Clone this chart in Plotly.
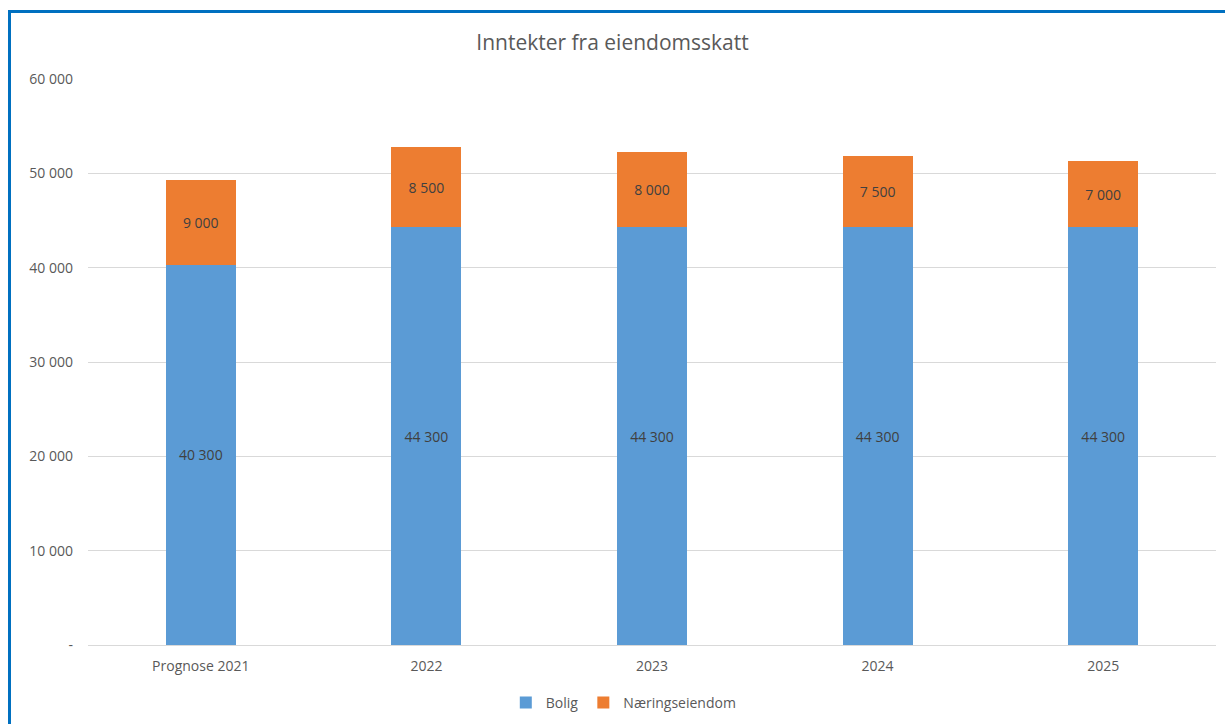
import plotly.graph_objects as go

categories = ["Prognose 2021", "2022", "2023", "2024", "2025"]
bolig = [40300, 44300, 44300, 44300, 44300]
naering = [9000, 8500, 8000, 7500, 7000]
ytick_vals = [0, 10000, 20000, 30000, 40000, 50000, 60000]
ytick_text = ["-", "10 000", "20 000", "30 000", "40 000", "50 000", "60 000"]

def fmt(v):
    return f"{v:,}".replace(",", " ")

FONT = "Open Sans"
GREY = "#595959"
PB = 645  # plot bottom pixel
PH = PB - 79

fig = go.Figure()
fig.add_trace(go.Bar(
    x=categories, y=bolig, name="Bolig",
    marker=dict(color="#5B9BD5", line=dict(width=0)),
    text=[fmt(v) for v in bolig], textposition="inside", insidetextanchor="middle",
    textfont=dict(color="#404040", size=14, family=FONT),
))
fig.add_trace(go.Bar(
    x=categories, y=naering, name="Næringseiendom",
    marker=dict(color="#ED7D31", line=dict(width=0)),
    text=[fmt(v) for v in naering], textposition="inside", insidetextanchor="middle",
    textfont=dict(color="#404040", size=14, family=FONT),
))

fig.update_layout(
    barmode="stack",
    bargap=0.69,
    width=1225, height=724,
    margin=dict(l=88, r=9, t=79, b=724 - PB, autoexpand=False),
    paper_bgcolor="white", plot_bgcolor="white",
    font=dict(family=FONT, color=GREY, size=14),
    title=dict(text="Inntekter fra eiendomsskatt", x=0.5, xanchor="center",
               y=1 - 43 / 724, yanchor="middle",
               font=dict(size=21, color=GREY, family=FONT)),
    legend=dict(orientation="h", x=0.475, xanchor="center",
                yref="container", y=1 - 703 / 724, yanchor="middle",
                font=dict(size=14, color=GREY), itemsizing="constant",
                itemwidth=30, traceorder="normal"),
    uniformtext=dict(minsize=8, mode="show"),
    showlegend=True,
)
fig.update_yaxes(range=[0, 60000], tickvals=ytick_vals, ticktext=ytick_text,
                 showgrid=True, gridcolor="#D9D9D9", gridwidth=1, zeroline=False,
                 showline=False, ticks="", ticklabelstandoff=14,
                 tickfont=dict(size=14, color=GREY))
fig.update_xaxes(showline=True, linecolor="#D9D9D9", linewidth=1, ticks="",
                 tickfont=dict(size=14, color=GREY), ticklabelstandoff=8)

# outer blue frame
fig.add_shape(type="rect", xref="paper", yref="paper",
              x0=(9.5 - 88) / 1128, x1=(1235 - 88) / 1128,
              y0=(PB - 740) / PH, y1=(PB - 11.5) / PH,
              line=dict(color="#0070C0", width=3), fillcolor="rgba(0,0,0,0)", layer="above")

fig.write_html("out.html", config={"displayModeBar": False},
               post_script="document.body.style.margin='0';document.body.style.overflow='hidden';")
